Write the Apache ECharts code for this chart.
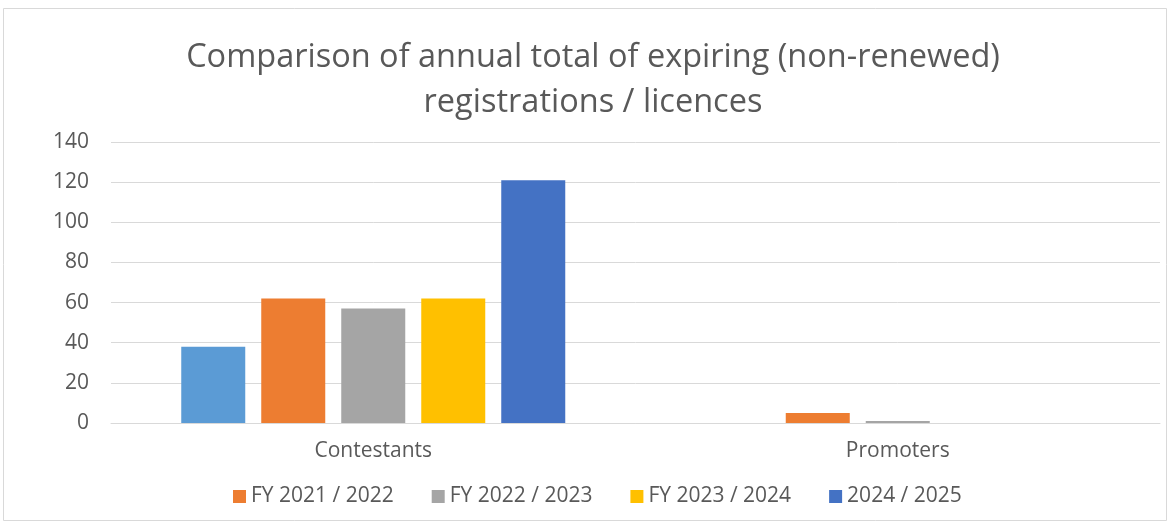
<!DOCTYPE html>
<html>
<head>
<meta charset="utf-8">
<script src="https://cdn.jsdelivr.net/npm/echarts@6/dist/echarts.min.js"></script>
<style>
  html, body { margin: 0; padding: 0; background: #fff; }
  #chart { width: 1171px; height: 525px; }
</style>
</head>
<body>
<div id="chart"></div>
<script>
// Categories and tick labels
const categories = ['Contestants', 'Promoters'];
const yTicks = [0, 20, 40, 60, 80, 100, 120, 140];

// Series values (one per category)
const seriesNames = ['FY 2020 / 2021', 'FY 2021 / 2022', 'FY 2022 / 2023', 'FY 2023 / 2024', '2024 / 2025'];
const valuesBase   = [38, 0];
const values2122   = [62, 5];
const values2223   = [57, 1];
const values2324   = [62, 0];
const values2425   = [121, 0];
const seriesValues = [valuesBase, values2122, values2223, values2324, values2425];
const seriesColors = ['#5B9BD5', '#ED7D31', '#A5A5A5', '#FFC000', '#4472C4'];
// The first series is drawn but left out of the legend
const legendNames = seriesNames.slice(1);

const textColor = '#595959';
const fontFamily = "'Open Sans', 'Noto Sans', sans-serif";

const chart = echarts.init(document.getElementById('chart'), null, { renderer: 'canvas' });

chart.setOption({
  animation: false,
  backgroundColor: '#fff',
  graphic: [{
    type: 'rect',
    shape: { x: 3.5, y: 8.5, width: 1163, height: 512 },
    style: { fill: 'none', stroke: '#D9D9D9', lineWidth: 1 },
    silent: true
  }],
  title: {
    text: 'Comparison of annual total of expiring (non-renewed)\nregistrations / licences',
    left: 588,
    textAlign: 'center',
    top: 30,
    textStyle: {
      color: textColor,
      fontFamily: fontFamily,
      fontSize: 32.5,
      fontWeight: 'normal',
      lineHeight: 45
    }
  },
  legend: {
    data: legendNames,
    top: 481,
    left: 228,
    icon: 'rect',
    itemWidth: 13,
    itemHeight: 13,
    itemGap: 38,
    textStyle: { color: textColor, fontFamily: fontFamily, fontSize: 21 }
  },
  grid: { left: 111, right: 11, top: 142, bottom: 102, containLabel: false },
  xAxis: {
    type: 'category',
    data: categories,
    axisLine: { lineStyle: { color: '#D9D9D9', width: 1 } },
    axisTick: { show: false },
    axisLabel: { color: textColor, fontFamily: fontFamily, fontSize: 21, margin: 18 }
  },
  yAxis: {
    type: 'value',
    min: yTicks[0],
    max: yTicks[yTicks.length - 1],
    interval: yTicks[1] - yTicks[0],
    axisLine: { show: false },
    axisTick: { show: false },
    splitLine: { lineStyle: { color: '#D9D9D9', width: 1 } },
    axisLabel: { color: textColor, fontFamily: fontFamily, fontSize: 21, margin: 22 }
  },
  series: seriesNames.map((name, i) => ({
    name: name,
    type: 'bar',
    data: seriesValues[i],
    barWidth: 64,
    barGap: '25%',
    itemStyle: { color: seriesColors[i] }
  }))
});
</script>
</body>
</html>
